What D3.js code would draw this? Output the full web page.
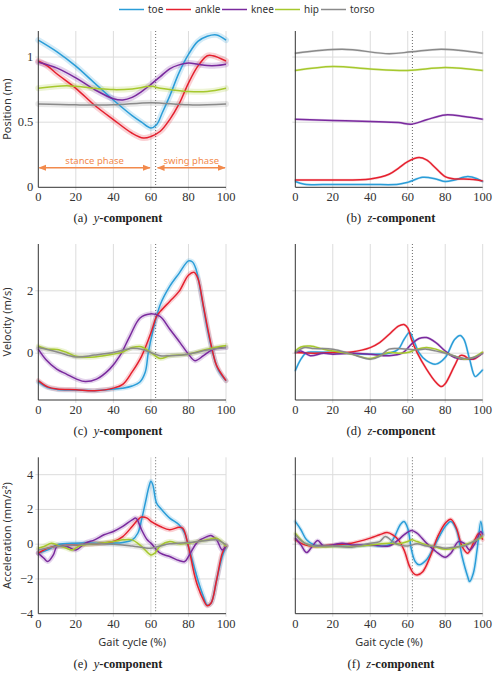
<!DOCTYPE html>
<html>
<head>
<meta charset="utf-8">
<script src="https://cdn.jsdelivr.net/npm/d3@7"></script>
<style>
  body { margin: 0; background: #fff; }
  svg { display: block; }
</style>
</head>
<body>
<svg id="chart" width="498" height="673"></svg>
<script>
// joints, in legend order
const joints = ["toe", "ankle", "knee", "hip", "torso"]
const pctTicks = [0, 20, 40, 60, 80, 100]
const toeOff = 62.5
const stance = [0, 60]
const swing = [63, 100]

// (a) position, y-component  [gait %, m]
const posY_toe = [[0,1.13],[10,1.04],[20,0.93],[30,0.8],[40,0.67],[50,0.55],[55,0.5],[60,0.455],[63,0.48],[66,0.57],[70,0.7],[75,0.88],[80,1.02],[85,1.12],[90,1.16],[95,1.17],[100,1.13]]
const posY_ankle = [[0,0.97],[5,0.93],[10,0.87],[20,0.76],[30,0.63],[40,0.52],[50,0.415],[56,0.378],[60,0.39],[65,0.43],[70,0.52],[75,0.64],[80,0.8],[85,0.93],[90,1.01],[93,1.01],[100,0.97]]
const posY_knee = [[0,0.96],[10,0.915],[20,0.84],[30,0.75],[40,0.68],[45,0.67],[50,0.69],[55,0.735],[60,0.79],[65,0.85],[70,0.91],[75,0.94],[80,0.955],[85,0.945],[90,0.935],[95,0.935],[100,0.945]]
const posY_hip = [[0,0.76],[15,0.78],[30,0.76],[40,0.75],[50,0.755],[60,0.775],[65,0.76],[70,0.75],[80,0.735],[90,0.735],[100,0.76]]
const posY_torso = [[0,0.64],[20,0.633],[40,0.633],[60,0.65],[80,0.633],[100,0.64]]

// (b) position, z-component
const posZ_toe = [[0,0.044],[5,0.023],[20,0.022],[40,0.022],[55,0.023],[60,0.038],[68,0.077],[75,0.064],[80,0.044],[85,0.056],[92,0.082],[97,0.066],[100,0.044]]
const posZ_ankle = [[0,0.056],[20,0.056],[40,0.064],[50,0.1],[55,0.146],[60,0.197],[66,0.228],[70,0.21],[75,0.146],[80,0.082],[85,0.064],[90,0.064],[95,0.06],[100,0.049]]
const posZ_knee = [[0,0.523],[20,0.513],[40,0.505],[55,0.497],[62,0.485],[70,0.518],[80,0.556],[90,0.544],[100,0.523]]
const posZ_hip = [[0,0.897],[20,0.928],[40,0.908],[60,0.897],[80,0.92],[100,0.897]]
const posZ_torso = [[0,1.03],[25,1.06],[50,1.026],[62,1.04],[78,1.06],[100,1.03]]

// (c) velocity, y-component  [gait %, m/s]
const velY_toe = [[0,-0.92],[5,-1.1],[10,-1.16],[20,-1.18],[30,-1.2],[40,-1.15],[45,-1.12],[50,-1.05],[54,-0.93],[57,-0.6],[58.6,0.02],[61,0.7],[65,1.56],[70,2.14],[75,2.56],[80,2.96],[82,2.93],[84,2.7],[87,1.8],[90,0.8],[93,0.0],[96,-0.55],[100,-0.88]]
const velY_ankle = [[0,-0.88],[5,-1.08],[10,-1.15],[20,-1.17],[30,-1.2],[40,-1.12],[45,-1.0],[50,-0.6],[55,-0.1],[60,0.65],[63,1.18],[65,1.34],[70,1.66],[75,1.98],[80,2.5],[83,2.59],[85,2.4],[88,1.5],[90,0.87],[93,0.02],[95,-0.4],[100,-0.88]]
const velY_knee = [[0,0.13],[4,-0.2],[9.8,-0.51],[15,-0.67],[20.4,-0.83],[25,-0.91],[31,-0.83],[38,-0.51],[43.5,-0.08],[48.8,0.55],[54.2,1.13],[59.5,1.26],[64.8,1.18],[70.2,0.76],[75.5,0.34],[80,-0.03],[83.5,-0.24],[88,-0.08],[93.3,0.13],[100,0.18]]
const velY_hip = [[0,0.23],[5,0.13],[10,0.12],[15,0.03],[20,-0.1],[30,-0.12],[40,-0.03],[45,0.04],[50,0.18],[55,0.21],[60,0.02],[65,-0.17],[70,-0.08],[80,-0.03],[90,0.13],[100,0.25]]
const velY_torso = [[0,0.18],[10,0.04],[20,-0.12],[30,-0.06],[40,0.02],[50,0.16],[55,0.13],[60,0.02],[65,-0.08],[70,-0.08],[80,-0.03],[90,0.1],[100,0.18]]

// (d) velocity, z-component
const velZ_toe = [[0,-0.56],[3,-0.19],[6,0.02],[10,0.04],[20,0.02],[30,-0.01],[40,-0.03],[50,0],[55,0.13],[58,0.44],[61,0.66],[63,0.44],[66,0.02],[70,-0.24],[75,-0.35],[80,-0.14],[85,0.44],[88,0.57],[90,0.44],[93,-0.19],[96,-0.75],[98,-0.66],[100,-0.53]]
const velZ_ankle = [[0,0.02],[10,0],[20,0.02],[30,0.04],[40,0.18],[45,0.34],[50,0.6],[55,0.87],[58,0.92],[60,0.81],[62,0.44],[65,0.02],[70,-0.51],[75,-0.93],[78,-1.07],[80,-0.98],[85,-0.4],[88,-0.08],[90,-0.08],[93,-0.19],[96,-0.17],[100,0.02]]
const velZ_knee = [[0,0.02],[3,0.07],[8,-0.08],[15,0],[20,-0.03],[30,0],[40,-0.03],[50,-0.08],[57,0],[62,0.29],[66,0.47],[70,0.5],[75,0.34],[80,0.07],[85,-0.14],[90,-0.19],[95,-0.17],[100,0]]
const velZ_hip = [[0,0.07],[3,0.2],[8,0.23],[15,0.13],[20,0.07],[30,-0.03],[40,-0.17],[50,0.02],[55,0],[60,0.02],[65,0.13],[70,0.18],[75,0.13],[80,0.02],[85,-0.1],[90,-0.19],[95,-0.14],[100,0.04]]
const velZ_torso = [[0,0.02],[5,0.18],[10,0.15],[20,0.13],[30,-0.03],[40,-0.19],[45,-0.1],[50,0.13],[55,0.15],[60,0.13],[65,0.11],[70,0.13],[80,0],[90,-0.17],[95,-0.14],[100,0]]

// (e) acceleration, y-component  [gait %, mm/s^2]
const accY_toe = [[0,-0.52],[5,-0.33],[10,-0.04],[20,0.06],[30,0.06],[40,0.06],[45,0.1],[50,0.25],[53,0.63],[55,1.4],[57,2.37],[59,3.33],[60,3.62],[61,3.42],[63,2.37],[65,2.08],[70,1.5],[75,1.12],[78,0.63],[80,-0.13],[83,-1.29],[85,-2.06],[88,-3.02],[90,-3.5],[92,-3.4],[95,-2.06],[98,-0.71],[100,-0.13]]
const accY_ankle = [[0,-0.52],[5,-0.23],[10,-0.1],[20,-0.04],[30,0.02],[40,0.15],[45,0.44],[50,1.02],[53,1.4],[55,1.56],[58,1.5],[60,1.31],[65,1.02],[70,0.83],[75,0.98],[77,0.92],[80,-0.13],[83,-1.67],[85,-2.44],[88,-3.21],[90,-3.54],[92,-3.4],[95,-2.06],[98,-0.52],[100,-0.1]]
const accY_knee = [[0,-0.52],[3,-0.81],[5,-1.0],[8,-0.62],[10,-0.13],[15,-0.13],[20,-0.33],[25,0.06],[30,0.25],[35,0.54],[40,0.73],[45,1.02],[50,1.4],[52,1.5],[55,0.83],[58,0.25],[60,0.06],[65,-0.52],[70,-0.71],[75,-0.94],[78,-1.0],[80,-0.71],[85,0.15],[90,0.44],[92,0.5],[95,0.25],[98,-0.33],[100,-0.1]]
const accY_hip = [[0,-0.23],[3,-0.13],[7,0.06],[10,-0.04],[15,-0.23],[18,-0.33],[22,-0.1],[30,0.02],[40,0.15],[45,0.25],[50,0.25],[55,-0.13],[60,-0.62],[62,-0.52],[65,-0.1],[70,0.15],[75,0.02],[80,0.06],[85,0.15],[90,0.25],[95,0.35],[100,-0.13]]
const accY_torso = [[0,-0.33],[10,-0.13],[20,-0.04],[30,0.02],[40,0],[50,-0.1],[60,-0.23],[65,-0.1],[70,0.02],[80,0.1],[90,0.21],[95,0.25],[100,-0.04]]

// (f) acceleration, z-component
const accZ_toe = [[0,1.31],[3,0.83],[6,0.25],[10,-0.04],[20,-0.1],[30,-0.13],[40,-0.04],[45,-0.1],[50,-0.04],[53,0.44],[56,1.12],[58,1.31],[60,0.92],[62,-0.33],[64,-1.0],[66,-1.19],[70,-0.9],[75,0.06],[80,1.02],[83,1.31],[86,0.83],[89,-0.71],[92,-1.87],[93,-2.15],[95,-1.67],[97,-0.33],[99,1.31],[100,0.63]]
const accZ_ankle = [[0,0.25],[5,-0.04],[10,-0.13],[20,-0.04],[30,0.06],[40,0.35],[45,0.54],[49,0.67],[52,0.54],[55,0.25],[58,-0.33],[61,-1.29],[63,-1.67],[65,-1.77],[68,-1.58],[72,-0.71],[76,0.44],[80,1.21],[83,1.44],[86,0.92],[89,-0.13],[92,-0.52],[95,0.06],[98,0.63],[100,0.25]]
const accZ_knee = [[0,0.35],[3,-0.04],[6,-0.48],[9,-0.13],[12,0.21],[15,-0.1],[20,-0.04],[25,0.06],[30,-0.04],[40,-0.04],[50,-0.1],[55,0.25],[58,0.54],[62,0.79],[65,0.63],[70,0.06],[75,-0.42],[80,-0.75],[83,-0.52],[87,0.15],[90,0.06],[93,-0.33],[96,0.06],[99,0.73],[100,0.54]]
const accZ_hip = [[0,0.63],[5,0.06],[10,-0.13],[20,-0.13],[30,-0.13],[40,-0.04],[50,0.06],[55,0.02],[60,0.15],[62,0.25],[65,0.15],[70,-0.04],[75,-0.17],[80,-0.29],[85,-0.23],[90,-0.04],[95,0.15],[100,0.44]]
const accZ_torso = [[0,0.54],[5,0.06],[10,-0.1],[20,-0.1],[30,-0.17],[40,0.06],[45,0.15],[48,0.44],[52,0.15],[55,-0.04],[60,-0.1],[65,0.02],[70,-0.1],[75,-0.13],[80,-0.23],[85,-0.17],[90,-0.1],[95,0.15],[100,0.54]]

const colour = {toe: "#2a9dd8", ankle: "#e5202e", knee: "#7a2a9e", hip: "#a6c82d", torso: "#8a8a8a"}
const ink = "#333"
const gridCol = "#dcdcdc"
const phaseCol = "#f28a4c"
const serif = "'Liberation Serif', 'DejaVu Serif', serif"
const sans = "'Noto Sans', 'Open Sans', sans-serif"

const svg = d3.select("#chart")

const cols = [[38.3, 226], [295.3, 482.7]]
const rows = [[31, 187.3], [244, 400], [457.3, 613.7]]

const panels = [
  {col: 0, row: 0, dom: [0, 1.2], ticks: [0, 0.5, 1], data: [posY_toe, posY_ankle, posY_knee, posY_hip, posY_torso], tag: "(a)", comp: "y", ytitle: "Position (m)", halo: 6},
  {col: 1, row: 0, dom: [0, 1.2], ticks: [0, 0.5, 1], data: [posZ_toe, posZ_ankle, posZ_knee, posZ_hip, posZ_torso], tag: "(b)", comp: "z", halo: 2.5},
  {col: 0, row: 1, dom: [-1.5, 3.5], ticks: [0, 2], data: [velY_toe, velY_ankle, velY_knee, velY_hip, velY_torso], tag: "(c)", comp: "y", ytitle: "Velocity (m/s)", halo: 5},
  {col: 1, row: 1, dom: [-1.5, 3.5], ticks: [0, 2], data: [velZ_toe, velZ_ankle, velZ_knee, velZ_hip, velZ_torso], tag: "(d)", comp: "z", halo: 2.5},
  {col: 0, row: 2, dom: [-4, 5], ticks: [-4, -2, 0, 2, 4], data: [accY_toe, accY_ankle, accY_knee, accY_hip, accY_torso], tag: "(e)", comp: "y", ytitle: "Acceleration (mm/s²)", xtitle: true, halo: 5},
  {col: 1, row: 2, dom: [-4, 5], ticks: [-4, -2, 0, 2, 4], data: [accZ_toe, accZ_ankle, accZ_knee, accZ_hip, accZ_torso], tag: "(f)", comp: "z", xtitle: true, halo: 4}
]

const fmt = v => (v < 0 ? "\u2212" : "") + Math.abs(v)

panels.forEach(p => {
  const [x0, x1] = cols[p.col]
  const [y0, y1] = rows[p.row]
  const x = d3.scaleLinear().domain([0, 100]).range([x0, x1])
  const y = d3.scaleLinear().domain(p.dom).range([y1, y0])
  const g = svg.append("g")

  // grid
  g.selectAll(".vgrid").data(pctTicks.filter(t => t > 0)).enter().append("line")
    .attr("x1", d => x(d)).attr("x2", d => x(d))
    .attr("y1", y0).attr("y2", y1 + 3)
    .attr("stroke", gridCol).attr("stroke-width", 1)
  g.selectAll(".hgrid").data(p.ticks.filter(t => t !== p.dom[0])).enter().append("line")
    .attr("x1", x0 - 3).attr("x2", x1)
    .attr("y1", d => y(d)).attr("y2", d => y(d))
    .attr("stroke", gridCol).attr("stroke-width", 1)

  // toe-off marker
  g.append("line")
    .attr("x1", x(toeOff)).attr("x2", x(toeOff))
    .attr("y1", y0).attr("y2", y1)
    .attr("stroke", "#777").attr("stroke-width", 1.1)
    .attr("stroke-dasharray", "1,2")

  const line = d3.line()
    .x(d => x(d[0])).y(d => y(d[1]))
    .curve(d3.curveCatmullRom.alpha(0.5))

  p.data.forEach((s, i) => {
    g.append("path").attr("d", line(s))
      .attr("fill", "none").attr("stroke", colour[joints[i]])
      .attr("stroke-width", p.halo).attr("stroke-opacity", 0.2)
      .attr("stroke-linecap", "round")
  })
  p.data.forEach((s, i) => {
    g.append("path").attr("d", line(s))
      .attr("fill", "none").attr("stroke", colour[joints[i]])
      .attr("stroke-width", 1.5)
  })

  // axes
  g.append("line").attr("x1", x0).attr("x2", x0).attr("y1", y0).attr("y2", y1)
    .attr("stroke", ink).attr("stroke-width", 1)
  g.append("line").attr("x1", x0).attr("x2", x1).attr("y1", y1).attr("y2", y1)
    .attr("stroke", ink).attr("stroke-width", 1)

  g.selectAll(".xl").data(pctTicks).enter().append("text")
    .attr("x", d => x(d)).attr("y", y1 + 14)
    .attr("text-anchor", "middle")
    .attr("font-family", serif).attr("font-size", 12.5).attr("fill", ink)
    .text(d => d)

  if (p.col === 0) {
    g.selectAll(".yl").data(p.ticks).enter().append("text")
      .attr("x", x0 - 5).attr("y", d => y(d) + 4)
      .attr("text-anchor", "end")
      .attr("font-family", serif).attr("font-size", 12.5).attr("fill", ink)
      .text(fmt)
    g.append("text")
      .attr("transform", `translate(10.5,${(y0 + y1) / 2}) rotate(-90)`)
      .attr("text-anchor", "middle")
      .attr("font-family", sans).attr("font-size", 11).attr("fill", ink)
      .text(p.ytitle)
  }

  if (p.xtitle) {
    g.append("text")
      .attr("x", (x0 + x1) / 2).attr("y", y1 + 32)
      .attr("text-anchor", "middle")
      .attr("font-family", sans).attr("font-size", 11).attr("fill", ink)
      .text("Gait cycle (%)")
  }

  // caption
  const cap = g.append("text")
    .attr("x", p.col === 0 ? 118 : 391).attr("y", p.row === 2 ? y1 + 54 : y1 + 35)
    .attr("text-anchor", "middle")
    .attr("font-family", serif).attr("font-size", 12.5).attr("fill", "#222")
  cap.append("tspan").text(p.tag + "\u2002")
  cap.append("tspan").attr("font-style", "italic").text(p.comp)
  cap.append("tspan").attr("font-weight", "bold").text("-component")

  // phase annotation on panel (a)
  if (p.tag === "(a)") {
    const ay = y(0.15)
    const defs = svg.append("defs")
    defs.append("marker").attr("id", "ah").attr("viewBox", "0 0 10 10")
      .attr("refX", 9).attr("refY", 5).attr("markerWidth", 6).attr("markerHeight", 6)
      .attr("orient", "auto-start-reverse")
      .append("path").attr("d", "M0,1L10,5L0,9Z").attr("fill", phaseCol)
    ;[[stance, "stance phase"], [swing, "swing phase"]].forEach(([r, label]) => {
      g.append("line")
        .attr("x1", x(r[0]) + 1).attr("x2", x(r[1]) - 1)
        .attr("y1", ay).attr("y2", ay)
        .attr("stroke", phaseCol).attr("stroke-width", 1.3)
        .attr("marker-start", "url(#ah)").attr("marker-end", "url(#ah)")
      g.append("text")
        .attr("x", x((r[0] + r[1]) / 2)).attr("y", ay - 3.5)
        .attr("text-anchor", "middle")
        .attr("font-family", sans).attr("font-size", 9.5).attr("fill", phaseCol)
        .text(label)
    })
  }
})

// legend
const legendX = [119, 166, 222, 275, 321]
const leg = svg.append("g")
joints.forEach((j, i) => {
  leg.append("line")
    .attr("x1", legendX[i]).attr("x2", legendX[i] + 25)
    .attr("y1", 9.5).attr("y2", 9.5)
    .attr("stroke", colour[j]).attr("stroke-width", 1.5)
  leg.append("text")
    .attr("x", legendX[i] + 29).attr("y", 13)
    .attr("font-family", sans).attr("font-size", 10).attr("fill", ink)
    .text(j)
})
</script>
</body>
</html>
